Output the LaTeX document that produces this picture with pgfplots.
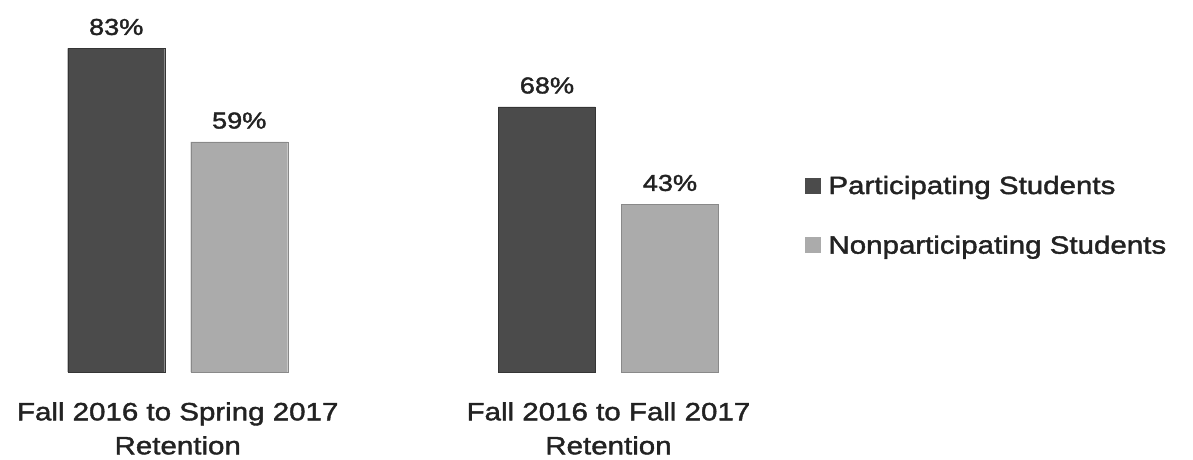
\documentclass[border=0pt]{standalone}
\usepackage{fontspec}
\setmainfont{Liberation Sans}[FakeStretch=1.18,FakeBold=1.6]
\usepackage{pgfplots}
\pgfplotsset{compat=1.18}
\definecolor{darkbar}{HTML}{4B4B4B}
\definecolor{lightbar}{HTML}{ABABAB}
\definecolor{txt}{HTML}{222222}
\begin{document}
\begin{tikzpicture}[x=1pt,y=1pt]
\useasboundingbox (0,0) rectangle (1193,460);
\fill[white] (0,0) rectangle (1193,460);
\begin{axis}[
  at={(0pt,88pt)}, anchor=south west,
  scale only axis, width=1193pt, height=372pt,
  xmin=-0.4126, xmax=2.3570, ymin=0, ymax=95.4,
  ybar, bar width=97pt,
  /pgf/number format/assume math mode=true,
  axis line style={draw=none}, major tick length=0pt,
  ytick=\empty, xtick={0,1},
  xticklabels={{Fall 2016 to Spring 2017\\Retention},{Fall 2016 to Fall 2017\\Retention}},
  xticklabel style={align=center, font=\fontsize{25}{34}\selectfont, text=txt, inner sep=0pt, yshift=-30pt},
  nodes near coords={\pgfmathprintnumber{\pgfplotspointmeta}\%},
  nodes near coords style={font=\fontsize{23}{26}\selectfont, text=txt, inner sep=0pt, yshift=13pt},
  legend style={at={(0.6748,0.533)}, anchor=north west, draw=none, fill=none,
    font=\fontsize{25}{30}\selectfont, text=txt, inner sep=0pt, row sep=36pt,
    cells={anchor=west}},
  legend cell align=left,
]
\addplot[fill=darkbar, draw=darkbar!70!black, bar shift=-61.5pt,
  legend image code/.code={\fill[darkbar] (0pt,-7pt) rectangle (15pt,8pt); \path[draw=none,fill=none] (0pt,0pt) -- (21pt,0pt);}]
  coordinates {(0,83) (1,68)};
\addplot[fill=lightbar, draw=lightbar!80!black, bar shift=61.5pt,
  legend image code/.code={\fill[lightbar] (0pt,-7pt) rectangle (15pt,8pt); \path[draw=none,fill=none] (0pt,0pt) -- (21pt,0pt);}]
  coordinates {(0,59) (1,43)};
\legend{Participating Students, Nonparticipating Students}
\end{axis}
\end{tikzpicture}
\end{document}
